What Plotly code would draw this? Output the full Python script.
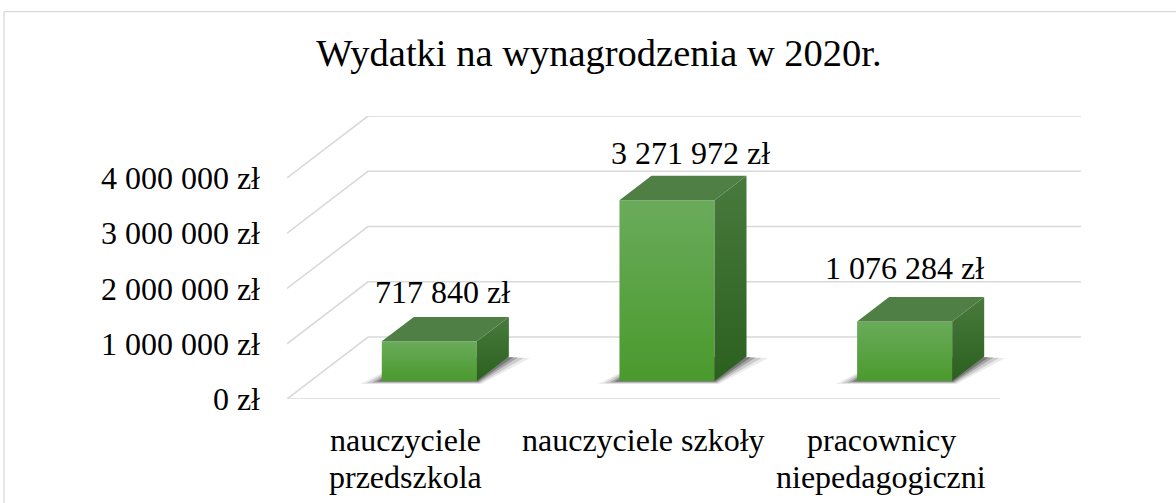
import plotly.graph_objects as go

# ---- data ----
categories = ["nauczyciele\nprzedszkola", "nauczyciele szkoły", "pracownicy\nniepedagogiczni"]
values = [717840, 3271972, 1076284]
value_labels = ["717 840 zł", "3 271 972 zł", "1 076 284 zł"]
tick_values = [0, 1000000, 2000000, 3000000, 4000000]
tick_labels = ["0 zł", "1 000 000 zł", "2 000 000 zł", "3 000 000 zł", "4 000 000 zł"]
title_text = "Wydatki na wynagrodzenia w 2020r."

# ---- 3D projection style constants (axis units) ----
DX = 0.3408          # depth shift in category units
DY = 1.1208e6        # depth shift in value units
F0 = 0.29            # depth fraction of bar front face
FD = 0.395           # depth fraction of bar thickness
BW = 0.40            # bar width (category units)
FONT = "Liberation Serif, Times New Roman, serif"
GRID = "#d9d9d9"

fig = go.Figure()

x_lo, x_hi = -0.5, len(categories) - 0.5

# gridlines: left wall diagonals + back wall horizontals
for t in tick_values:
    fig.add_trace(go.Scatter(
        x=[x_lo, x_lo + DX, x_hi + DX], y=[t, t + DY, t + DY],
        mode="lines", line=dict(color=GRID, width=1.6), hoverinfo="skip", showlegend=False))
# floor front edge
fig.add_trace(go.Scatter(x=[x_lo, x_hi], y=[0, 0], mode="lines",
                         line=dict(color=GRID, width=1.6), hoverinfo="skip", showlegend=False))

# bars
for i, v in enumerate(values):
    cx = i + F0 * DX
    b = F0 * DY
    dxd, dyd = FD * DX, FD * DY
    l, r = cx - BW / 2, cx + BW / 2
    # shadow layers (soft shadow on the floor)
    for ex, ey, a in [(0.09, 0.055e6, 0.08), (0.065, 0.04e6, 0.13), (0.04, 0.025e6, 0.2),
                      (0.02, 0.012e6, 0.25)]:
        fig.add_trace(go.Scatter(
            x=[l - ex, r + ex * 0.2, r + dxd + ex, l + dxd, l - ex],
            y=[b - ey, b - ey, b + dyd - ey * 0.5, b + dyd, b - ey],
            fill="toself", fillcolor=f"rgba(0,0,0,{a})", line=dict(width=0),
            mode="lines", hoverinfo="skip", showlegend=False))
    # front face
    fig.add_trace(go.Scatter(
        x=[l, r, r, l, l], y=[b, b, b + v, b + v, b],
        fill="toself", mode="lines", line=dict(width=0),
        fillgradient=dict(type="vertical", colorscale=[[0, "#4a9a2d"], [1, "#6aab5b"]]),
        hoverinfo="skip", showlegend=False))
    # side face
    fig.add_trace(go.Scatter(
        x=[r, r + dxd, r + dxd, r, r], y=[b, b + dyd, b + v + dyd, b + v, b],
        fill="toself", mode="lines", line=dict(width=0),
        fillgradient=dict(type="vertical", colorscale=[[0, "#2c601f"], [1, "#477a3c"]]),
        hoverinfo="skip", showlegend=False))
    # top face
    fig.add_trace(go.Scatter(
        x=[l, r, r + dxd, l + dxd, l], y=[b + v, b + v, b + v + dyd, b + v + dyd, b + v],
        fill="toself", mode="lines", line=dict(width=0), fillcolor="#4f7f45",
        hoverinfo="skip", showlegend=False))

annotations = []
LABEL_DX = [13, 24, 0]
LABEL_DY = [25, 23, 29]
for i, (v, lab) in enumerate(zip(values, value_labels)):
    cx = i + F0 * DX
    annotations.append(dict(
        x=cx, y=F0 * DY + v + FD * DY, xref="x", yref="y", text=lab, showarrow=False,
        xanchor="center", yanchor="middle", xshift=LABEL_DX[i], yshift=LABEL_DY[i],
        font=dict(family=FONT, size=32, color="#000000")))

# category labels (line by line, tight Excel spacing)
for i, c in enumerate(categories):
    for k, line in enumerate(c.split("\n")):
        annotations.append(dict(
            x=i, y=0, xref="x", yref="y", text=line, showarrow=False,
            xanchor="center", yanchor="middle", yshift=-41 - 36.5 * k,
            font=dict(family=FONT, size=32, color="#000000")))

fig.update_layout(
    width=1176, height=503,
    margin=dict(l=287, r=95, t=116, b=104, pad=0),
    paper_bgcolor="white", plot_bgcolor="white",
    title=dict(text=title_text, x=599 / 1176, xref="container", xanchor="center",
               y=1 - 52.5 / 503, yref="container", yanchor="middle",
               font=dict(family=FONT, size=38.5, color="#000000")),
    xaxis=dict(range=[x_lo, x_hi + DX], showgrid=False, zeroline=False, showline=False,
               showticklabels=False, ticks="", fixedrange=True),
    yaxis=dict(range=[0, tick_values[-1] + DY], showgrid=False, zeroline=False, showline=False,
               tickvals=tick_values, ticktext=tick_labels, ticks="", ticklabelstandoff=26,
               tickfont=dict(family=FONT, size=32, color="#000000"), fixedrange=True),
    annotations=annotations,
    showlegend=False,
    shapes=[
        dict(type="line", xref="paper", yref="paper", x0=(4 - 287) / 794, x1=(4 - 287) / 794,
             y0=(399 - 520) / 283, y1=(399 - 11.7) / 283, line=dict(color=GRID, width=1.3)),
        dict(type="line", xref="paper", yref="paper", x0=(4 - 287) / 794, x1=(1190 - 287) / 794,
             y0=(399 - 11.7) / 283, y1=(399 - 11.7) / 283, line=dict(color=GRID, width=1.3)),
    ],
)

fig.write_html("out.html", config={"displayModeBar": False},
               post_script="document.body.style.margin='0';document.body.style.overflow='hidden';")
